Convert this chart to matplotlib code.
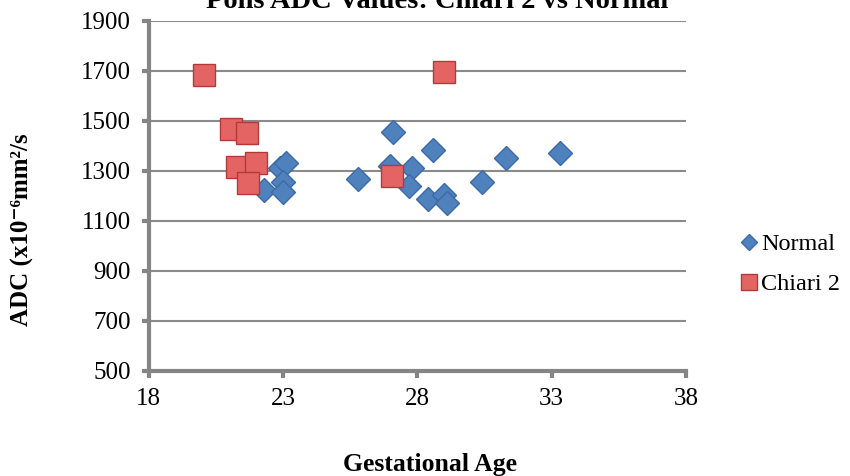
import matplotlib.pyplot as plt

# Normal fetuses
normal_age = [22.3, 22.9, 23.1, 23.0, 23.0, 25.8, 27.1, 27.0, 27.8, 27.7,
              28.6, 28.4, 29.0, 29.1, 30.4, 31.3, 33.3]
normal_adc = [1225, 1310, 1330, 1255, 1215, 1268, 1455, 1318, 1310, 1238,
              1382, 1188, 1204, 1172, 1256, 1350, 1372]

# Chiari 2 fetuses
chiari_age = [20.05, 21.05, 21.65, 21.28, 21.98, 21.7, 27.05, 29.0]
chiari_adc = [1684, 1468, 1452, 1316, 1332, 1252, 1280, 1696]

x_ticks = [18, 23, 28, 33, 38]
y_ticks = [500, 700, 900, 1100, 1300, 1500, 1700, 1900]

plt.rcParams['font.family'] = ['Liberation Serif', 'DejaVu Serif']

fig = plt.figure(figsize=(8.5, 4.76), dpi=100)
ax = fig.add_axes([0.175, 0.2206, 0.632, 0.7353])

ax.plot(normal_age, normal_adc, linestyle='none', marker='D', markersize=12,
        markerfacecolor='#4F81BD', markeredgecolor='#3B6AA8', markeredgewidth=1.0,
        label='Normal', zorder=3)
ax.plot(chiari_age, chiari_adc, linestyle='none', marker='s', markersize=16.5,
        markerfacecolor='#E46464', markeredgecolor='#B33A3A', markeredgewidth=1.0,
        label='Chiari 2', zorder=4)

ax.set_xlim(18, 38)
ax.set_ylim(500, 1900)
ax.set_xticks(x_ticks)
ax.set_yticks(y_ticks)
ax.grid(axis='y', color='#8a8a8a', linewidth=1.5)
ax.set_axisbelow(True)

for side in ['top', 'right']:
    ax.spines[side].set_visible(False)
for side in ['left', 'bottom']:
    ax.spines[side].set_color('#858585')
    ax.spines[side].set_linewidth(3)
ax.tick_params(axis='both', direction='out', length=5, width=3, color='#858585',
               labelsize=18)
ax.tick_params(axis='x', pad=7)
ax.tick_params(axis='y', pad=8)

fig.text(0.506, 1 - 465 / 476, 'Gestational Age', ha='center', va='center',
         fontsize=18.5, fontweight='bold')
fig.text(0.027, 1 - 230 / 476, 'ADC (x10\u207b\u2076mm\u00b2/s', ha='center', va='center',
         rotation=90, fontsize=18, fontweight='bold')

fig.text(0.514, 1 - 8 / 476, 'Pons ADC Values: Chiari 2 vs Normal', ha='center', va='baseline',
         fontsize=20.5, fontweight='bold')

leg = ax.legend(loc='center left', bbox_to_anchor=(0.868, 0.445), bbox_transform=fig.transFigure,
                frameon=False, fontsize=17.5, handletextpad=0.05, labelspacing=0.75,
                handlelength=0.9, markerscale=0.7, borderpad=0, borderaxespad=0)

fig.savefig('out.png', dpi=100)
